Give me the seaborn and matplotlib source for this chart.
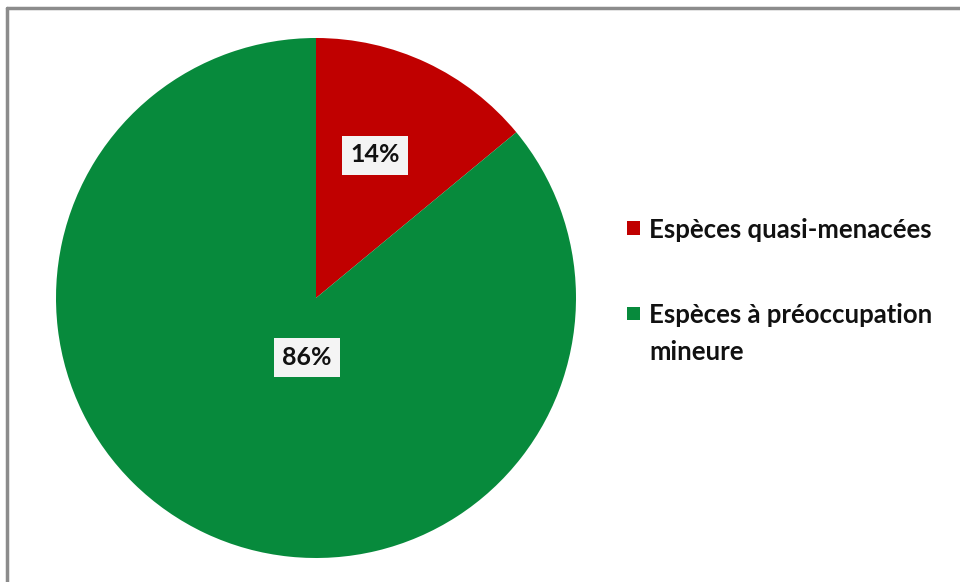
import matplotlib
matplotlib.use("Agg")
import matplotlib.pyplot as plt
import matplotlib.patches as mpatches
from matplotlib.lines import Line2D
import seaborn as sns

categories = ["Espèces quasi-menacées", "Espèces à préoccupation\nmineure"]
values = [14, 86]
labels = ["14%", "86%"]
colors = ["#C00000", "#078A3C"]

sns.set_theme(style="white")
plt.rcParams['font.family'] = ['Lato', 'DejaVu Sans']

W, H = 960, 582
fig = plt.figure(figsize=(9.6, 5.82), dpi=100)
fig.patch.set_facecolor("white")
ax = fig.add_axes([56/W, 24/H, 520/W, 520/H])
wedges, _ = ax.pie(values, colors=colors, startangle=90, counterclock=False,
                   radius=1.0, wedgeprops=dict(linewidth=0))
ax.set_xlim(-1, 1)
ax.set_ylim(-1, 1)
ax.set_aspect("equal")
ax.axis("off")

label_pos = [(0.227, 0.55), (-0.035, -0.227)]
for (x, y), t in zip(label_pos, labels):
    ax.text(x, y, t, ha="center", va="center", fontsize=18, fontweight="bold",
            color="#111111",
            bbox=dict(boxstyle="square,pad=0.32", facecolor="#F4F4F4", edgecolor="none"))

# legend drawn manually so the marker aligns with the first text line
leg_y = [228, 313]
line_gap = 37
for c, lab, y in zip(colors, categories, leg_y):
    fig.add_artist(mpatches.Rectangle(((627)/W, 1 - (y + 6.5)/H), 13/W, 13/H,
                                      facecolor=c, edgecolor="none",
                                      transform=fig.transFigure))
    for i, line in enumerate(lab.split("\n")):
        fig.text(649/W, 1 - (y + i*line_gap)/H, line, ha="left", va="center_baseline",
                 fontsize=18.5, fontweight="bold", color="#111111")

# frame border (left and top)
fig.add_artist(Line2D([7/W, 7/W], [0, 1 - 8/H], color="#8C8C8C", linewidth=2.5,
                      transform=fig.transFigure))
fig.add_artist(Line2D([7/W, 1], [1 - 8/H, 1 - 8/H], color="#8C8C8C", linewidth=2.5,
                      transform=fig.transFigure))

fig.savefig("out.png", dpi=100)
